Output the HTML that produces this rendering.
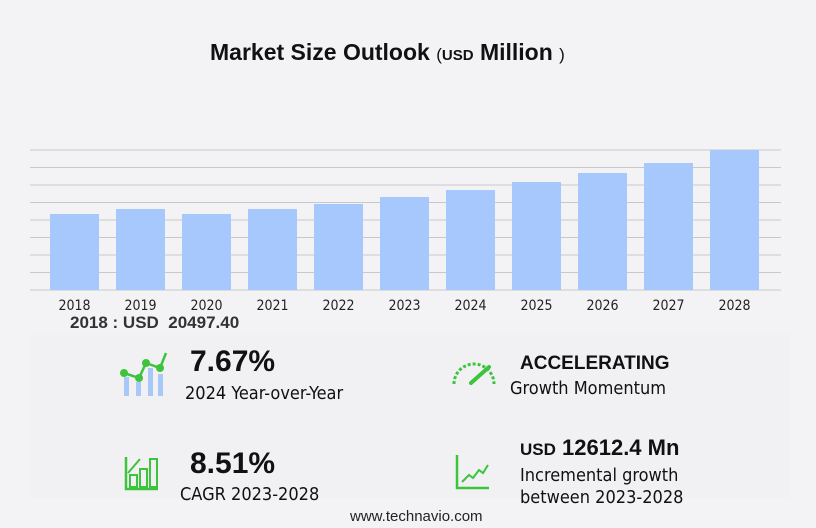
<!DOCTYPE html>
<html><head><meta charset="utf-8"><style>
body{margin:0;width:816px;height:528px;background:#f3f3f5;font-family:"Liberation Sans","DejaVu Sans",sans-serif;position:relative;overflow:hidden}
.a{position:absolute;white-space:nowrap;color:#111}
.big{font-weight:bold;font-size:30px}
.sub{font-size:18px;font-family:"DejaVu Sans Condensed","DejaVu Sans",sans-serif}
</style></head><body>
<div class="a" style="left:210px;top:39px;font-size:23px;font-weight:bold">Market Size Outlook <span style="font-size:17px;font-weight:normal">(</span><span style="font-size:15px">USD</span> Million <span style="font-size:17px;font-weight:normal">)</span></div>
<svg id="chart" width="816" height="320" style="position:absolute;left:0;top:0"></svg>
<div class="a" style="left:70px;top:313px;font-size:17px;font-weight:bold;color:#333">2018 : USD &nbsp;20497.40</div>
<div style="position:absolute;left:30px;top:333px;width:760px;height:165px;background:#f1f1f3"></div>
<svg width="50" height="50" style="position:absolute;left:118px;top:350px">
<rect x="6" y="27" width="5" height="19" fill="#a8c8f8"/><rect x="18" y="32" width="5" height="14" fill="#a8c8f8"/><rect x="30" y="18" width="5" height="28" fill="#a8c8f8"/><rect x="40" y="24" width="5" height="22" fill="#a8c8f8"/>
<polyline points="6,23 21,28 28,13 42,18 48,3" fill="none" stroke="#3cc43c" stroke-width="2.5"/><circle cx="6" cy="23" r="4" fill="#3cc43c"/><circle cx="21" cy="28" r="4" fill="#3cc43c"/><circle cx="28" cy="13" r="4" fill="#3cc43c"/><circle cx="42" cy="18" r="4" fill="#3cc43c"/></svg>
<div class="a big" style="left:190px;top:345px">7.67%</div>
<div class="a sub" style="left:185px;top:383px">2024 Year-over-Year</div>
<svg width="46" height="30" style="position:absolute;left:451px;top:359px"><path d="M3,25 A20,20 0 0 1 43,25" fill="none" stroke="#3cc43c" stroke-width="3" stroke-dasharray="3,2"/><line x1="20" y1="24" x2="38" y2="8" stroke="#3cc43c" stroke-width="4" stroke-linecap="round"/></svg>
<div class="a" style="left:520px;top:353px;font-size:19px;font-weight:bold">ACCELERATING</div>
<div class="a sub" style="left:510px;top:378px">Growth Momentum</div>
<svg width="36" height="36" style="position:absolute;left:124px;top:455px"><path d="M2,2 V34 H34" fill="none" stroke="#3cc43c" stroke-width="2.5"/><rect x="6" y="20" width="7" height="12" fill="none" stroke="#3cc43c" stroke-width="2"/><rect x="16" y="14" width="7" height="18" fill="none" stroke="#3cc43c" stroke-width="2"/><rect x="26" y="4" width="7" height="28" fill="none" stroke="#3cc43c" stroke-width="2"/><line x1="4" y1="18" x2="16" y2="4" stroke="#3cc43c" stroke-width="2"/></svg>
<div class="a big" style="left:190px;top:447px">8.51%</div>
<div class="a sub" style="left:180px;top:484px">CAGR 2023-2028</div>
<svg width="36" height="36" style="position:absolute;left:455px;top:455px"><path d="M2,0 V33 H34" fill="none" stroke="#3cc43c" stroke-width="2.5"/><polyline points="7,27 14,20 18,23 24,15 28,18 33,10" fill="none" stroke="#3cc43c" stroke-width="2"/></svg>
<div class="a" style="left:520px;top:435px;font-size:22px;font-weight:bold"><span style="font-size:17px">USD</span> 12612.4 Mn</div>
<div class="a sub" style="left:520px;top:465px;line-height:22px">Incremental growth<br>between 2023-2028</div>
<div class="a" style="left:350px;top:508px;font-size:15px;color:#222">www.technavio.com</div>
<script>
const categories=["2018","2019","2020","2021","2022","2023","2024","2025","2026","2027","2028"];
const values=[20497.4,21845,20497.4,21845,23193,25081,26970,29127,31554,34251,37756];
const gridCount=8;
const yMax=37756;
const svg=document.getElementById('chart');
const NS="http://www.w3.org/2000/svg";
const baseY=290,topY=150,x0=50,step=66,bw=49;
function y(v){return baseY-(v/yMax)*(baseY-topY);}
function x(i){return x0+i*step;}
for(let g=0;g<=gridCount;g++){
 const l=document.createElementNS(NS,'line');
 const yy=y(yMax*g/gridCount);
 l.setAttribute('x1',30);l.setAttribute('x2',781);l.setAttribute('y1',yy);l.setAttribute('y2',yy);
 l.setAttribute('stroke','#c8c8cc');l.setAttribute('stroke-width','1');
 
 
 svg.appendChild(l);
}
values.forEach((v,i)=>{
 const r=document.createElementNS(NS,'rect');
 r.setAttribute('x',x(i));r.setAttribute('y',y(v));r.setAttribute('width',bw);r.setAttribute('height',baseY-y(v));
 r.setAttribute('fill','#a7c8fd');
 
 
 svg.appendChild(r);
 const t=document.createElementNS(NS,'text');
 t.setAttribute('x',x(i)+bw/2);t.setAttribute('y',310);t.setAttribute('text-anchor','middle');
 t.setAttribute('font-size','14');t.setAttribute('fill','#222');
 t.setAttribute('font-family','"DejaVu Sans Condensed","DejaVu Sans",sans-serif');
 t.textContent=categories[i];
 
 
 svg.appendChild(t);
});
</script>
</body></html>
